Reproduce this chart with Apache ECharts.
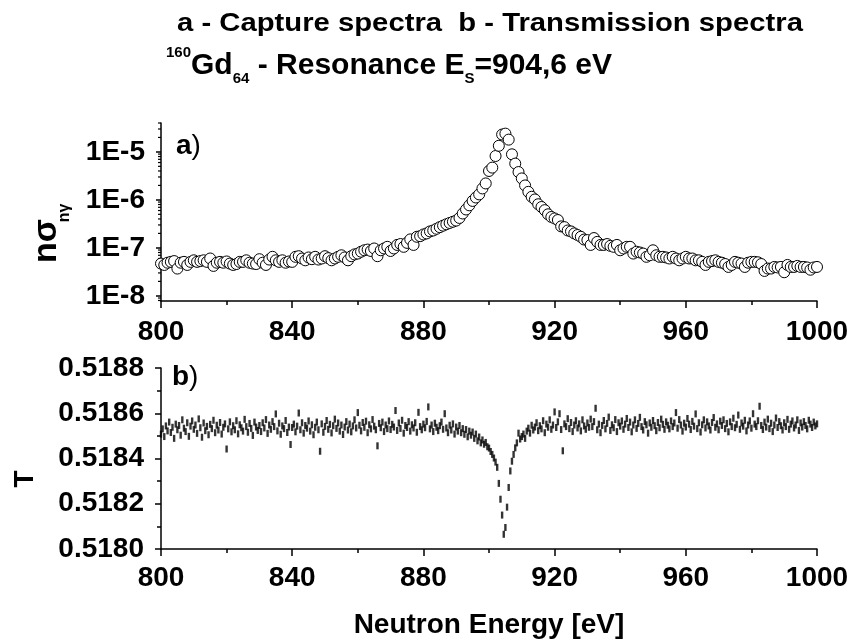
<!DOCTYPE html>
<html><head><meta charset="utf-8">
<script src="https://cdn.jsdelivr.net/npm/echarts@6/dist/echarts.min.js"></script>
<style>html,body{margin:0;padding:0;background:#fff}#c{width:853px;height:644px}</style>
</head><body><div id="c"></div>
<script>
// ---- data ----
const captureStart = 800, captureStep = 1;   // eV
const captureValues = [
 4.7e-8,4.4e-8,4.9e-8,5.1e-8,5.3e-8,3.7e-8,4.9e-8,5.1e-8,4.4e-8,5.1e-8,
 5.5e-8,5.1e-8,5.3e-8,5.5e-8,5.1e-8,6.0e-8,4.2e-8,4.9e-8,5.1e-8,4.9e-8,
 5.2e-8,4.7e-8,4.4e-8,4.6e-8,5.1e-8,5.1e-8,5.5e-8,4.9e-8,4.7e-8,4.6e-8,
 5.8e-8,4.9e-8,4.4e-8,5.7e-8,6.5e-8,5.5e-8,5.1e-8,5.5e-8,4.9e-8,5.2e-8,
 5.1e-8,6.5e-8,6.7e-8,6.0e-8,5.5e-8,6.3e-8,5.8e-8,6.5e-8,5.7e-8,6.0e-8,
 6.7e-8,6.1e-8,5.5e-8,6.0e-8,6.5e-8,7.0e-8,6.3e-8,5.5e-8,6.7e-8,7.3e-8,
 7.6e-8,8.3e-8,8.9e-8,9.2e-8,8.6e-8,9.7e-8,6.7e-8,8.9e-8,9.7e-8,1.05e-7,
 8.6e-8,9.7e-8,1.15e-7,1.2e-7,1.05e-7,1.27e-7,1.5e-7,1.15e-7,1.7e-7,1.75e-7,
 1.9e-7,2.0e-7,2.2e-7,2.3e-7,2.5e-7,2.7e-7,2.9e-7,3.1e-7,3.3e-7,3.5e-7,
 3.7e-7,4.2e-7,5.2e-7,6.3e-7,7.7e-7,9.5e-7,1.12e-6,1.3e-6,1.73e-6,2.2e-6,
 4.0e-6,4.7e-6,8.2e-6,1.34e-5,2.3e-5,2.4e-5,1.8e-5,8.9e-6,5.7e-6,3.8e-6,
 2.8e-6,2.0e-6,1.47e-6,1.16e-6,1.02e-6,8.1e-7,7.1e-7,6.1e-7,5.0e-7,4.4e-7,
 4.1e-7,3.8e-7,2.8e-7,2.7e-7,2.3e-7,2.2e-7,2.0e-7,1.85e-7,1.7e-7,1.49e-7,
 1.45e-7,1.15e-7,1.6e-7,1.33e-7,1.15e-7,1.15e-7,1.2e-7,1.1e-7,1.05e-7,1.15e-7,
 8.9e-8,9.7e-8,1.05e-7,1.05e-7,7.6e-8,8.3e-8,8.0e-8,7.6e-8,6.5e-8,7.0e-8,
 8.9e-8,7.0e-8,6.5e-8,6.5e-8,6.3e-8,6.0e-8,6.5e-8,6.0e-8,5.5e-8,6.0e-8,
 6.5e-8,6.0e-8,6.0e-8,5.5e-8,5.5e-8,5.1e-8,4.4e-8,5.1e-8,5.3e-8,5.5e-8,
 5.1e-8,4.9e-8,4.6e-8,4.0e-8,4.4e-8,5.1e-8,4.9e-8,4.7e-8,4.0e-8,4.9e-8,
 5.1e-8,5.1e-8,5.0e-8,4.6e-8,3.3e-8,3.7e-8,3.7e-8,4.0e-8,3.9e-8,4.0e-8,
 3.1e-8,4.4e-8,4.0e-8,4.0e-8,4.2e-8,4.0e-8,4.0e-8,3.9e-8,3.5e-8,3.9e-8,
 4.0e-8
];
const transStart = 800, transStep = 0.5;   // eV
const transValues = [
 0.518508,0.518531,0.518497,0.518544,0.518522,0.518561,0.518515,0.518538,0.518489,0.518552,
 0.518527,0.518546,0.518503,0.518571,0.518534,0.518519,0.518558,0.518498,0.518543,0.518566,
 0.518529,0.518548,0.518511,0.518575,0.518536,0.518494,0.518557,0.518523,0.518542,0.518505,
 0.518551,0.518532,0.518569,0.518514,0.518547,0.518526,0.518559,0.518508,0.518538,0.518553,
 0.518442,0.518531,0.518562,0.518518,0.518545,0.518527,0.518567,0.518509,0.518549,0.518536,
 0.518521,0.518573,0.518541,0.518516,0.518555,0.518533,0.518502,0.518561,0.518539,0.518524,
 0.518546,0.518519,0.518558,0.518535,0.518572,0.518511,0.518548,0.518529,0.518563,0.518541,
 0.518597,0.518522,0.518556,0.518507,0.518544,0.518532,0.518568,0.518515,0.518539,0.518462,
 0.518537,0.518552,0.518518,0.518543,0.518601,0.518527,0.518558,0.518512,0.518546,0.518534,
 0.518566,0.518521,0.518549,0.518505,0.518538,0.518561,0.518527,0.518432,0.518553,0.518516,
 0.518542,0.518568,0.518529,0.518551,0.518513,0.518545,0.518574,0.518533,0.518557,0.518521,
 0.518548,0.518506,0.518539,0.518563,0.518526,0.518552,0.518518,0.518544,0.518571,0.518535,
 0.518603,0.518547,0.518522,0.518559,0.518538,0.518565,0.518514,0.518549,0.518531,0.518572,
 0.518543,0.518527,0.518456,0.518555,0.518536,0.518561,0.518519,0.518548,0.518532,0.518566,
 0.518528,0.518551,0.518539,0.518612,0.518524,0.518557,0.518533,0.518569,0.518512,0.518546,
 0.518537,0.518563,0.518521,0.518549,0.518535,0.518558,0.518516,0.518604,0.518541,0.518527,
 0.518552,0.518536,0.518564,0.518628,0.518531,0.518548,0.518519,0.518556,0.518538,0.518523,
 0.518545,0.518561,0.518529,0.518598,0.518535,0.518514,0.518547,0.518526,0.518553,0.518508,
 0.518539,0.518521,0.518546,0.518514,0.518532,0.518507,0.518528,0.518496,0.518521,0.518503,
 0.518517,0.518489,0.518508,0.518478,0.518495,0.518469,0.518482,0.518463,0.518471,0.518452,
 0.518446,0.518431,0.518418,0.518402,0.518384,0.518361,0.518290,0.518220,0.518150,0.518065,
 0.518095,0.518185,0.518272,0.518345,0.518388,0.518418,0.518447,0.518469,0.518512,0.518486,
 0.518497,0.518508,0.518489,0.518521,0.518534,0.518512,0.518547,0.518526,0.518539,0.518558,
 0.518523,0.518545,0.518531,0.518567,0.518514,0.518552,0.518538,0.518571,0.518529,0.518548,
 0.518606,0.518537,0.518562,0.518598,0.518528,0.518434,0.518553,0.518541,0.518576,0.518532,
 0.518559,0.518519,0.518548,0.518567,0.518535,0.518553,0.518522,0.518571,0.518544,0.518529,
 0.518557,0.518538,0.518574,0.518541,0.518563,0.518622,0.518527,0.518552,0.518514,0.518546,
 0.518568,0.518531,0.518555,0.518583,0.518524,0.518549,0.518536,0.518572,0.518519,0.518558,
 0.518543,0.518566,0.518529,0.518552,0.518577,0.518537,0.518561,0.518518,0.518548,0.518571,
 0.518533,0.518555,0.518582,0.518541,0.518526,0.518563,0.518549,0.518512,0.518557,0.518538,
 0.518568,0.518545,0.518523,0.518559,0.518536,0.518574,0.518551,0.518529,0.518562,0.518547,
 0.518531,0.518566,0.518541,0.518557,0.518603,0.518534,0.518572,0.518548,0.518521,0.518556,
 0.518539,0.518577,0.518552,0.518528,0.518564,0.518543,0.518597,0.518532,0.518558,0.518517,
 0.518549,0.518571,0.518535,0.518562,0.518544,0.518526,0.518559,0.518581,0.518538,0.518553,
 0.518527,0.518565,0.518546,0.518571,0.518532,0.518555,0.518518,0.518562,0.518541,0.518578,
 0.518536,0.518551,0.518592,0.518529,0.518557,0.518543,0.518569,0.518522,0.518548,0.518566,
 0.518534,0.518598,0.518552,0.518541,0.518567,0.518631,0.518546,0.518528,0.518561,0.518539,
 0.518574,0.518532,0.518556,0.518519,0.518548,0.518579,0.518537,0.518563,0.518545,0.518526,
 0.518558,0.518541,0.518573,0.518529,0.518552,0.518566,0.518535,0.518548,0.518571,0.518524,
 0.518557,0.518539,0.518563,0.518546,0.518531,0.518569,0.518552,0.518537,0.518561,0.518544,
 0.518553
];
const xTicksMin = 800, xTicksMax = 1000, xTickInterval = 40;
const capMin = 7.8e-9, capMax = 4e-5;
const transMin = 0.5180, transMax = 0.5188, transInterval = 0.0002;

// ---- build ----
const FONT = '"Liberation Sans", Arial, Helvetica, sans-serif';
const capData = captureValues.map((v, i) => [captureStart + i * captureStep, v]);
const transData = transValues.map((v, i) => [transStart + i * transStep, v]);
const logMinor = [];
for (let e = -9; e <= -5; e++) for (let m = 2; m <= 9; m++) {
  const v = m * Math.pow(10, e);
  if (v >= capMin && v <= capMax) logMinor.push([xTicksMin, v]);
}

const axisColor = '#000';
const lab = { color: '#000', fontFamily: FONT, fontWeight: 'bold', fontSize: 28 };
function xAxisCfg(grid, margin) {
  return {
    gridIndex: grid, type: 'value', min: xTicksMin, max: xTicksMax, interval: xTickInterval,
    axisLine: { show: true, onZero: false, lineStyle: { color: axisColor, width: 1.5 } },
    axisTick: { show: true, length: 7, lineStyle: { color: axisColor, width: 1.5 } },
    minorTick: { show: true, splitNumber: 2, length: 4, lineStyle: { color: axisColor, width: 1.5 } },
    axisLabel: Object.assign({ margin: margin, formatter: v => String(Math.round(v)) }, lab),
    splitLine: { show: false }
  };
}

const chart = echarts.init(document.getElementById('c'), null, { renderer: 'canvas' });
chart.setOption({
  animation: false,
  backgroundColor: '#fff',
  grid: [
    { left: 161, top: 123, width: 656, height: 178 },
    { left: 161, top: 368, width: 656, height: 181 }
  ],
  xAxis: [xAxisCfg(0, 17), xAxisCfg(1, 15)],
  yAxis: [
    {
      gridIndex: 0, type: 'log', logBase: 10, min: capMin, max: capMax,
      axisLine: { show: true, onZero: false, lineStyle: { color: axisColor, width: 1.5 } },
      axisTick: { show: true, length: 5, lineStyle: { color: axisColor, width: 1.5 } },
      minorTick: { show: false },
      splitLine: { show: false },
      axisLabel: Object.assign({ margin: 16, showMinLabel: false, showMaxLabel: false,
        formatter: function (v) {
          const e = Math.log10(v);
          if (Math.abs(e - Math.round(e)) > 1e-6) return '';
          return '1E' + Math.round(e);
        } }, lab)
    },
    {
      gridIndex: 1, type: 'value', min: transMin, max: transMax, interval: transInterval,
      axisLine: { show: true, onZero: false, lineStyle: { color: axisColor, width: 1.5 } },
      axisTick: { show: true, length: 6, lineStyle: { color: axisColor, width: 1.5 } },
      minorTick: { show: true, splitNumber: 2, length: 4, lineStyle: { color: axisColor, width: 1.5 } },
      splitLine: { show: false },
      axisLabel: Object.assign({ margin: 17, formatter: v => v.toFixed(4) }, lab)
    }
  ],
  series: [
    {
      type: 'scatter', xAxisIndex: 0, yAxisIndex: 0, data: capData,
      symbol: 'circle', symbolSize: 11, silent: true,
      itemStyle: { color: '#fff', borderColor: '#000', borderWidth: 1, opacity: 1 }
    },
    {
      type: 'custom', xAxisIndex: 0, yAxisIndex: 0, data: logMinor, silent: true, clip: false,
      renderItem: function (params, api) {
        const p = api.coord([api.value(0), api.value(1)]);
        return { type: 'line', shape: { x1: p[0] - 3, y1: p[1], x2: p[0], y2: p[1] },
          style: { stroke: '#000', lineWidth: 1.2 } };
      }
    },
    {
      type: 'scatter', xAxisIndex: 1, yAxisIndex: 1, data: transData,
      symbol: 'rect', symbolSize: [2.4, 7], silent: true,
      itemStyle: { color: '#000' }
    }
  ],
  graphic: [
    { type: 'text', x: 490, y: 24, scaleX: 1.17, silent: true,
      style: { text: 'a - Capture spectra  b - Transmission spectra', fill: '#000',
        font: 'bold 25px ' + FONT, align: 'center', verticalAlign: 'middle' } },
    { type: 'text', x: 166, y: 45, silent: true,
      style: { text: '{sup|160}{m|Gd}{sub|64}{m| - Resonance E}{sub|S}{m|=904,6 eV}', fill: '#000',
        font: 'bold 30px ' + FONT, align: 'left', verticalAlign: 'top',
        rich: {
          m: { fontSize: 30, fontWeight: 'bold', fontFamily: FONT, lineHeight: 41, fill: '#000' },
          sup: { fontSize: 15, fontWeight: 'bold', fontFamily: FONT, lineHeight: 15, verticalAlign: 'top', fill: '#000' },
          sub: { fontSize: 15, fontWeight: 'bold', fontFamily: FONT, lineHeight: 15, verticalAlign: 'bottom', fill: '#000' }
        } } },
    { type: 'text', x: 47, y: 241, rotation: Math.PI / 2, silent: true,
      style: { text: 'nσ', fill: '#000', font: 'bold 34px ' + FONT, align: 'center', verticalAlign: 'middle' } },
    { type: 'text', x: 65, y: 213, rotation: Math.PI / 2, silent: true,
      style: { text: 'nγ', fill: '#000', font: 'bold 16px ' + FONT, align: 'center', verticalAlign: 'middle' } },
    { type: 'text', x: 25, y: 479, rotation: Math.PI / 2, silent: true,
      style: { text: 'T', fill: '#000', font: 'bold 28px ' + FONT, align: 'center', verticalAlign: 'middle' } },
    { type: 'text', x: 489, y: 625, silent: true,
      style: { text: 'Neutron Energy [eV]', fill: '#000', font: 'bold 28px ' + FONT, align: 'center', verticalAlign: 'middle' } },
    { type: 'text', x: 176, y: 146, silent: true,
      style: { text: '{b|a}{n|)}', fill: '#000', font: 'bold 28px ' + FONT, align: 'left', verticalAlign: 'middle',
        rich: { b: { fontSize: 28, fontWeight: 'bold', fontFamily: FONT, fill: '#000' },
                n: { fontSize: 28, fontWeight: 'normal', fontFamily: FONT, fill: '#000' } } } },
    { type: 'text', x: 172, y: 377, silent: true,
      style: { text: '{b|b}{n|)}', fill: '#000', font: 'bold 28px ' + FONT, align: 'left', verticalAlign: 'middle',
        rich: { b: { fontSize: 28, fontWeight: 'bold', fontFamily: FONT, fill: '#000' },
                n: { fontSize: 28, fontWeight: 'normal', fontFamily: FONT, fill: '#000' } } } }
  ]
});
</script>
</body></html>
